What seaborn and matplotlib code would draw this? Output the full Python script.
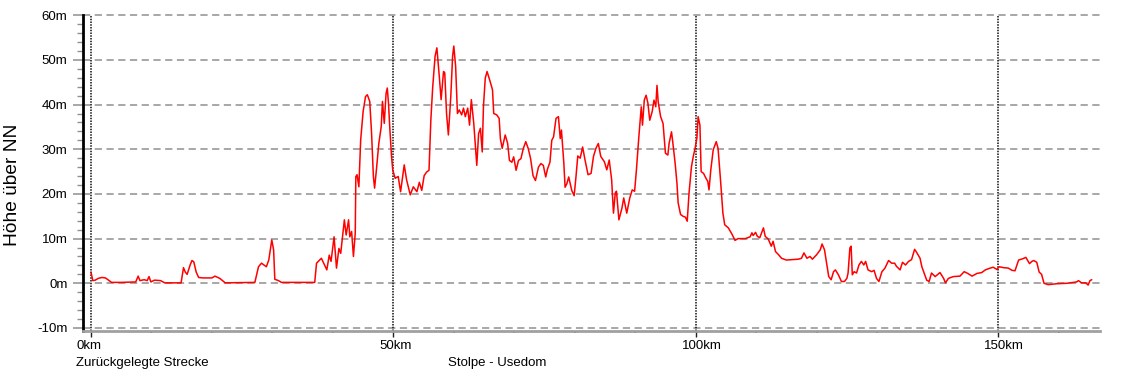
import numpy as np
import pandas as pd
import matplotlib
matplotlib.use("Agg")
import matplotlib.pyplot as plt
import seaborn as sns
from matplotlib.ticker import MultipleLocator, FixedLocator

# distance along the route (km) and elevation (m)
dist_km = [
    0.0, 0.3, 0.7, 1.2, 1.8, 2.4, 2.9, 3.4, 5.0, 7.4, 7.8, 8.1, 8.8, 9.3, 9.6, 9.9,
    10.5, 11.5, 12.2, 14.9, 15.3, 15.6, 15.9, 16.4, 16.7, 17.0, 17.4, 17.8, 18.5,
    20.0, 20.5, 21.3, 22.2, 27.1, 27.7, 28.2, 29.0, 29.4, 29.9, 30.2, 30.4, 31.0,
    31.5, 37.0, 37.3, 38.1, 39.0, 39.4, 39.7, 40.2, 40.6, 41.0, 41.3, 41.9, 42.2,
    42.6, 42.8, 43.1, 43.4, 43.7, 43.8, 44.0, 44.3, 44.6, 45.0, 45.4, 45.7, 46.1,
    46.4, 46.7, 46.9, 47.2, 47.6, 48.0, 48.2, 48.5, 48.8, 49.0, 49.2, 49.4, 49.7,
    49.9, 50.3, 50.8, 51.2, 51.8, 52.2, 52.8, 53.3, 53.9, 54.3, 54.7, 55.1, 55.5,
    55.9, 56.2, 56.5, 56.9, 57.2, 57.6, 57.9, 58.3, 58.5, 58.8, 59.1, 59.5, 59.8,
    60.0, 60.3, 60.6, 60.9, 61.3, 61.6, 61.9, 62.3, 62.6, 62.9, 63.3, 63.6, 63.8,
    64.1, 64.4, 64.7, 64.9, 65.2, 65.5, 66.0, 66.4, 66.6, 67.1, 67.5, 67.7, 68.0,
    68.5, 68.9, 69.2, 69.6, 69.9, 70.3, 70.7, 71.1, 71.5, 71.9, 72.3, 72.7, 73.1,
    73.5, 74.0, 74.4, 74.8, 75.2, 75.5, 75.9, 76.2, 76.5, 76.9, 77.3, 77.6, 77.8,
    78.2, 78.4, 78.7, 79.0, 79.5, 79.9, 80.2, 80.5, 80.9, 81.3, 81.7, 82.2, 82.7,
    83.1, 83.5, 83.9, 84.3, 84.9, 85.3, 85.7, 86.1, 86.4, 86.7, 86.9, 87.3, 87.8,
    88.1, 88.6, 89.1, 89.5, 89.9, 90.2, 90.6, 91.0, 91.2, 91.5, 91.8, 92.1, 92.4,
    92.8, 93.1, 93.4, 93.6, 93.8, 94.2, 94.6, 95.0, 95.4, 95.6, 96.0, 96.2, 96.6,
    96.9, 97.1, 97.5, 97.9, 98.3, 98.6, 98.9, 99.3, 99.6, 99.9, 100.2, 100.4, 100.7,
    100.9, 101.3, 101.7, 102.0, 102.2, 102.5, 102.9, 103.4, 103.7, 104.1, 104.5,
    104.8, 105.4, 106.0, 106.5, 107.0, 108.2, 109.0, 109.3, 109.5, 109.9, 110.2,
    110.6, 111.2, 111.5, 112.0, 112.5, 112.8, 113.2, 113.7, 114.2, 115.0, 115.9,
    117.0, 117.5, 117.9, 118.4, 118.9, 119.3, 120.0, 120.6, 120.9, 121.3, 121.7,
    122.0, 122.4, 122.8, 123.1, 123.6, 124.1, 124.6, 125.0, 125.2, 125.5, 125.7,
    125.9, 126.2, 126.6, 127.0, 127.4, 127.8, 128.1, 128.5, 129.1, 129.5, 129.9,
    130.3, 130.8, 131.3, 131.9, 132.4, 132.9, 133.2, 133.8, 134.2, 134.7, 135.2,
    135.7, 136.2, 136.5, 137.1, 137.4, 138.2, 138.6, 139.0, 139.6, 140.4, 141.0,
    141.3, 141.8, 142.6, 143.7, 144.4, 145.0, 145.7, 146.5, 147.3, 147.9, 148.7,
    149.2, 149.8, 150.2, 150.9, 151.7, 152.3, 152.8, 153.4, 154.1, 154.6, 155.2,
    155.6, 155.9, 156.4, 156.8, 157.2, 157.6, 158.3, 159.7, 161.4, 163.0, 163.3,
    163.8, 164.5, 164.9, 165.2, 165.5,
]
elev_m = [
    2.5, 0.6, 0.7, 1.1, 1.3, 1.2, 0.7, 0.2, 0.2, 0.3, 1.6, 0.6, 0.8, 0.6, 1.5, 0.3,
    0.7, 0.6, 0.1, 0.1, 3.5, 2.5, 2.0, 4.1, 5.1, 4.8, 2.5, 1.3, 1.2,
    1.2, 1.6, 1.1, 0.1, 0.2, 3.7, 4.5, 3.7, 5.2, 9.7, 7.5, 0.9, 0.6,
    0.2, 0.2, 4.5, 5.6, 3.0, 6.3, 4.9, 10.4, 3.4, 7.8, 6.7, 14.2, 10.8,
    14.2, 10.4, 11.6, 6.0, 11.2, 23.9, 24.3, 21.6, 32.1, 38.4, 41.8, 42.2, 40.7,
    33.6, 23.9, 21.3, 25.4, 31.3, 35.1, 40.7, 35.8, 42.5, 43.7, 40.3, 35.1, 28.4,
    25.4, 23.5, 23.9, 20.5, 26.5, 23.1, 19.8, 21.6, 20.5, 22.6, 20.8, 24.1, 24.9,
    25.3, 36.5, 43.7, 50.8, 52.7, 46.3, 41.1, 47.4, 47.1, 38.0, 33.2, 41.8, 50.8,
    53.1, 48.6, 38.0, 38.8, 37.7, 39.2, 37.3, 39.2, 35.4, 41.1, 35.8, 30.2, 26.4,
    33.5, 34.7, 29.4, 39.5, 45.9, 47.4, 45.2, 43.3, 38.0, 37.7, 36.9, 32.4, 30.2,
    33.2, 31.3, 27.5, 27.1, 28.3, 25.3, 27.5, 27.9, 30.2, 31.7, 30.2, 27.9, 24.1,
    23.0, 26.0, 26.8, 26.4, 23.8, 25.6, 27.1, 32.0, 32.8, 36.9, 37.3, 32.4, 34.3,
    26.8, 21.5, 22.3, 23.8, 20.8, 19.6, 23.8, 28.5, 28.0, 30.5, 27.6, 24.3, 24.6,
    28.4, 30.2, 31.3, 28.4, 27.2, 25.4, 27.6, 23.2, 15.7, 20.2, 20.6, 14.2, 16.8,
    19.1, 15.7, 19.1, 20.9, 20.6, 25.4, 32.8, 39.5, 35.4, 41.0, 42.1, 40.3, 36.5,
    38.4, 41.0, 39.5, 44.3, 40.6, 37.3, 35.8, 29.1, 28.7, 31.3, 33.9, 31.7, 26.9,
    22.4, 18.0, 15.4, 15.0, 14.8, 13.9, 20.2, 26.1, 28.4, 30.2, 32.5, 37.3, 35.4,
    25.0, 24.6, 23.5, 22.8, 20.9, 25.4, 29.9, 31.7, 30.2, 23.2, 15.7,
    13.1, 12.4, 11.0, 9.6, 10.0, 10.0, 10.4, 11.3, 10.7, 11.4, 10.5,
    10.2, 12.4, 10.5, 9.9, 8.3, 9.4, 7.1, 6.4, 5.6, 5.2, 5.3,
    5.4, 5.6, 6.8, 5.6, 6.0, 5.4, 6.4, 7.5, 8.8, 7.5, 4.1,
    1.5, 0.8, 2.6, 3.0, 1.9, 0.4, 0.4, 1.1, 2.3, 7.9, 8.3,
    1.9, 2.6, 2.3, 4.1, 4.9, 4.1, 4.9, 3.0, 2.6, 2.9, 1.1,
    0.4, 2.6, 3.4, 5.1, 4.5, 4.5, 3.8, 3.0, 4.7, 4.1, 4.9,
    5.3, 7.6, 7.0, 5.6, 3.7, 0.7, 0.4, 2.3, 1.5, 2.4, 1.1,
    0.1, 1.1, 1.5, 1.6, 2.6, 2.2, 1.6, 2.2, 2.4, 3.0, 3.4,
    3.6, 3.1, 3.7, 3.5, 3.4, 2.9, 2.8, 5.2, 5.5, 5.8, 4.4,
    4.9, 5.1, 4.7, 2.5, 2.0, 0.0, -0.3, -0.1, 0.0, 0.3, 0.6,
    0.1, 0.1, -0.4, 0.6, 0.8,
]

y_ticks = [-10, 0, 10, 20, 30, 40, 50, 60]
y_labels = [f"{v}m" for v in y_ticks]
x_ticks = [0, 50, 100, 150]
x_labels = ["0km", "50km", "100km", "150km"]

df = pd.DataFrame({"km": dist_km, "m": elev_m})

sns.set_style("white")
plt.rcParams["font.family"] = ["Liberation Sans", "DejaVu Sans"]

fig = plt.figure(figsize=(11.34, 3.78), dpi=100)
W, H = 1134, 378
ax = fig.add_axes([83 / W, (H - 331) / H, (1100 - 83) / W, (331 - 13) / H])

sns.lineplot(data=df, x="km", y="m", color="#ff0000", linewidth=1.1,
             estimator=None, sort=False, ax=ax)

ax.set_xlim(-1.32, 166.86)
ax.set_ylim(-10.68, 60.5)

# horizontal dashed grid
for v in y_ticks:
    ax.axhline(v, color="#a0a0a0", linewidth=1.3, linestyle=(0, (4, 2.5)), zorder=0)
# vertical dotted lines at the 50 km marks
for v in x_ticks:
    ax.axvline(v, ymax=(60 + 10.68) / (60.5 + 10.68), color="#101010",
               linewidth=1.1, linestyle=(0, (1, 0.8)), zorder=0)

ax.yaxis.set_major_locator(FixedLocator(y_ticks))
ax.yaxis.set_minor_locator(MultipleLocator(2))
ax.set_yticklabels(y_labels)
ax.tick_params(axis="y", which="major", length=7.2, width=1.3, color="#a0a0a0",
               pad=4, labelsize=9.5, labelcolor="#000000", left=True)
ax.tick_params(axis="y", which="minor", length=4.3, width=1.0, color="#909090",
               left=True)

ax.xaxis.set_major_locator(FixedLocator(x_ticks))
ax.xaxis.set_minor_locator(MultipleLocator(10))
ax.set_xticklabels([])
ax.tick_params(axis="x", which="major", length=4, width=1.0, color="#202020",
               bottom=True)
ax.tick_params(axis="x", which="minor", length=1.5, width=1.5, color="#404040",
               bottom=True)

for s in ["top", "right"]:
    ax.spines[s].set_visible(False)
ax.spines["left"].set_color("#000000")
ax.spines["left"].set_linewidth(2.0)
ax.spines["left"].set_bounds(-10.68, 60)
ax.spines["bottom"].set_color("#a0a0a0")
ax.spines["bottom"].set_linewidth(2.0)

ax.set_xlabel("")
ax.set_ylabel("")

for v, lab in zip(x_ticks, x_labels):
    ax.annotate(lab, xy=(v, 0), xycoords=("data", "axes fraction"),
                xytext=(-14, -15), textcoords="offset pixels",
                ha="left", va="center", fontsize=9.5, color="#000000")

fig.text(76 / W, 1 - 363 / H, "Zurückgelegte Strecke", ha="left", va="center",
         fontsize=9.5, color="#000000")
fig.text(448 / W, 1 - 363 / H, "Stolpe - Usedom", ha="left", va="center",
         fontsize=9.5, color="#000000")
fig.text(13 / W, 1 - 185 / H, "Höhe über NN", rotation=90, ha="center",
         va="center", fontsize=13.8, color="#000000")

fig.savefig("out.png", dpi=100)
